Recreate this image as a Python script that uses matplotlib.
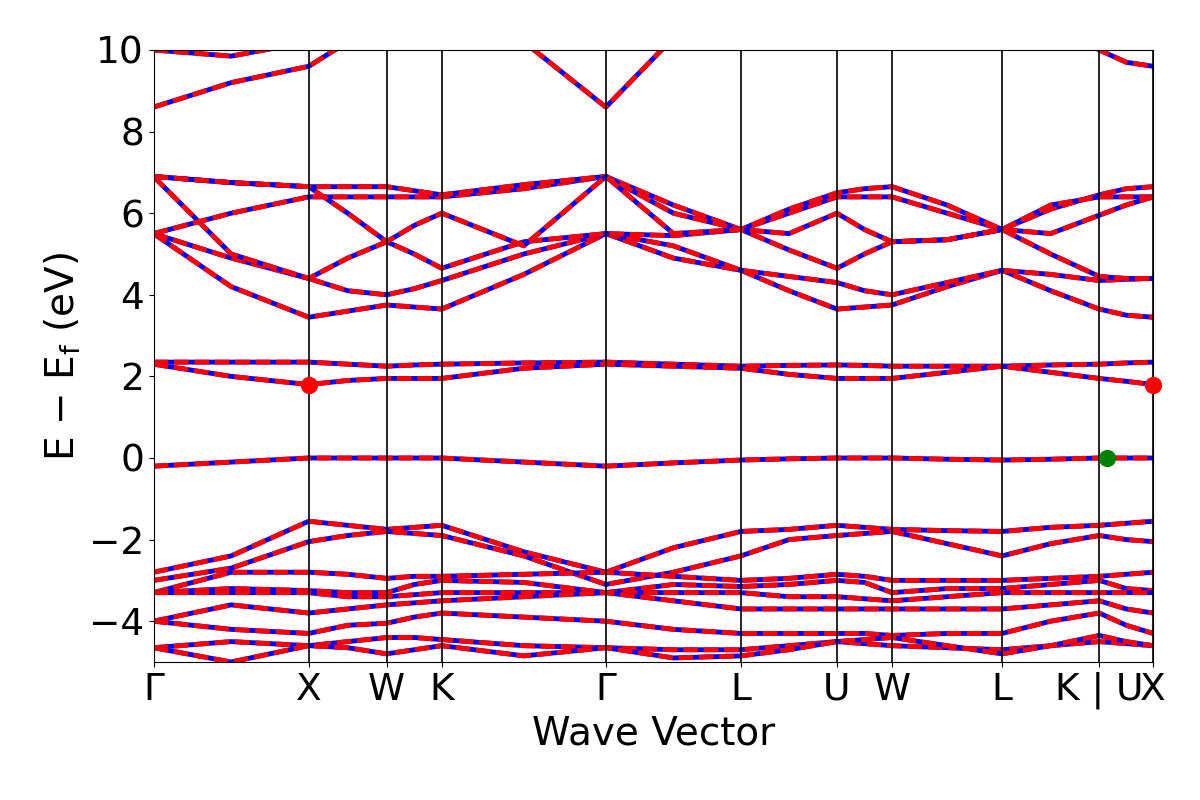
import numpy as np
import matplotlib
matplotlib.use("Agg")
import matplotlib.pyplot as plt

# high-symmetry k-point distances and labels
kdist = [0.0, 1.0, 1.503, 1.858, 2.916, 3.787, 4.406, 4.761, 5.471, 6.097, 6.445]
klabels = ["Γ", "X", "W", "K", "Γ", "L", "U", "W", "L", "K | U", "X"]

# band energies at [Γ,m,X,m,W,m,K,m,Γ,m,L,m,U,m,W,m,L,m,K,m,X] (m = segment midpoint)
t1 = [8.6, 9.2, 9.6, 10.2, 10.8, 11, 11, 10.2, 8.6, 10.3, 11, 11, 11, 11, 11, 11, 11, 11, 10.0, 9.7, 9.6]
t2 = [10.0, 9.85, 10.2, 10.8, 11, 11, 11, 11, 11, 11, 11, 11, 11, 11, 11, 11, 11, 11, 11, 11, 11]
u1 = [5.5, 4.2, 3.45, 3.6, 3.75, 3.7, 3.65, 4.5, 5.5, 4.9, 4.6, 4.1, 3.65, 3.7, 3.75, 4.2, 4.6, 4.1, 3.65, 3.5, 3.45]
u2 = [5.5, 4.9, 4.4, 4.1, 4.0, 4.15, 4.35, 5.0, 5.5, 5.2, 4.6, 4.45, 4.3, 4.1, 4.0, 4.3, 4.6, 4.5, 4.35, 4.38, 4.4]
u3 = [6.9, 5.0, 4.4, 4.9, 5.3, 5.0, 4.65, 5.3, 5.5, 5.45, 5.6, 5.1, 4.65, 5.0, 5.3, 5.35, 5.6, 5.0, 4.45, 4.4, 4.4]
u4 = [5.5, 6.0, 6.4, 6.4, 6.4, 6.4, 6.4, 6.6, 6.9, 6.2, 5.6, 6.0, 6.4, 6.4, 6.4, 6.0, 5.6, 6.1, 6.45, 6.6, 6.65]
u5 = [6.9, 6.75, 6.65, 6.65, 6.65, 6.55, 6.45, 6.7, 6.9, 6.0, 5.6, 6.1, 6.5, 6.6, 6.65, 6.2, 5.6, 6.2, 6.4, 6.4, 6.4]
u6 = [6.9, 6.75, 6.65, 6.0, 5.3, 5.7, 6.0, 5.2, 6.9, 5.5, 5.6, 5.5, 6.0, 5.6, 5.3, 5.35, 5.6, 5.5, 5.95, 6.2, 6.4]
c1 = [2.35, 2.35, 2.35, 2.3, 2.25, 2.28, 2.3, 2.33, 2.35, 2.3, 2.25, 2.27, 2.28, 2.27, 2.25, 2.25, 2.25, 2.28, 2.3, 2.33, 2.35]
c2 = [2.3, 2.0, 1.8, 1.9, 1.95, 1.95, 1.95, 2.2, 2.3, 2.25, 2.2, 2.05, 1.95, 1.95, 1.95, 2.1, 2.25, 2.1, 1.95, 1.88, 1.8]
f1 = [-0.2, -0.1, 0.0, 0.0, 0.0, 0.0, 0.0, -0.1, -0.2, -0.12, -0.05, -0.02, 0.0, 0.0, 0.0, -0.03, -0.05, -0.03, 0.0, 0.0, 0.0]
v1 = [-2.8, -2.4, -1.55, -1.65, -1.75, -1.7, -1.65, -2.3, -2.8, -2.2, -1.8, -1.75, -1.65, -1.7, -1.75, -1.78, -1.8, -1.7, -1.65, -1.6, -1.55]
v2 = [-3.0, -2.7, -2.05, -1.9, -1.8, -1.85, -1.9, -2.4, -3.1, -2.8, -2.4, -2.0, -1.9, -1.85, -1.8, -2.1, -2.4, -2.1, -1.9, -2.0, -2.05]
v3 = [-3.3, -2.8, -2.8, -2.85, -2.95, -2.9, -2.9, -2.85, -2.8, -2.9, -3.0, -2.95, -2.85, -2.9, -3.0, -3.0, -3.0, -2.95, -2.9, -2.85, -2.8]
v4 = [-3.3, -3.2, -3.25, -3.3, -3.3, -3.1, -3.0, -3.05, -3.3, -3.1, -3.15, -3.1, -3.0, -3.05, -3.3, -3.2, -3.2, -3.1, -3.0, -3.2, -3.25]
v5 = [-3.3, -3.3, -3.3, -3.4, -3.4, -3.35, -3.3, -3.3, -3.3, -3.3, -3.3, -3.4, -3.4, -3.45, -3.5, -3.4, -3.3, -3.3, -3.3, -3.3, -3.3]
v6 = [-4.0, -3.6, -3.8, -3.7, -3.6, -3.55, -3.5, -3.4, -3.3, -3.5, -3.7, -3.7, -3.7, -3.7, -3.7, -3.7, -3.7, -3.6, -3.5, -3.7, -3.8]
v7 = [-4.0, -4.2, -4.3, -4.1, -4.05, -3.9, -3.8, -3.9, -4.0, -4.2, -4.3, -4.3, -4.3, -4.3, -4.35, -4.3, -4.3, -4.0, -3.8, -4.1, -4.3]
v8 = [-4.65, -4.5, -4.6, -4.5, -4.4, -4.4, -4.45, -4.6, -4.65, -4.7, -4.7, -4.6, -4.5, -4.55, -4.6, -4.65, -4.7, -4.6, -4.5, -4.55, -4.6]
v9 = [-4.65, -5.0, -4.6, -4.65, -4.8, -4.7, -4.6, -4.85, -4.65, -4.9, -4.85, -4.7, -4.5, -4.45, -4.4, -4.6, -4.8, -4.6, -4.35, -4.5, -4.6]
bands = [t1, t2, u1, u2, u3, u4, u5, u6, c1, c2, f1, v1, v2, v3, v4, v5, v6, v7, v8, v9]

cbm_k = [1.0, 6.445]
cbm_e = [1.8, 1.8]
vbm_k = [6.148]
vbm_e = [0.0]

kpts = []
for i in range(len(kdist) - 1):
    kpts += [kdist[i], (kdist[i] + kdist[i + 1]) / 2]
kpts.append(kdist[-1])

fig = plt.figure(figsize=(12, 8), dpi=100)
ax = fig.add_axes([0.128, 0.1725, 0.833, 0.765])
for b in bands:
    ax.plot(kpts, b, color="blue", lw=3.5, solid_capstyle="butt")
    ax.plot(kpts, b, color="red", lw=3.5, ls=(0, (3, 1.2)))
for k in kdist:
    ax.axvline(k, color="black", lw=1.2)
ax.scatter(cbm_k, cbm_e, s=130, color="red", zorder=5, clip_on=False)
ax.scatter(vbm_k, vbm_e, s=130, color="green", zorder=5)
ax.set_xlim(kdist[0], kdist[-1])
ax.set_ylim(-5, 10)
ax.set_xticks(kdist)
ax.set_xticklabels(klabels, fontsize=27)
ax.tick_params(axis="y", labelsize=27)
ax.set_xlabel("Wave Vector", fontsize=28)
ax.set_ylabel(r"E $-$ E$_{\mathrm{f}}$ (eV)", fontsize=28)
fig.savefig("out.png", dpi=100)
